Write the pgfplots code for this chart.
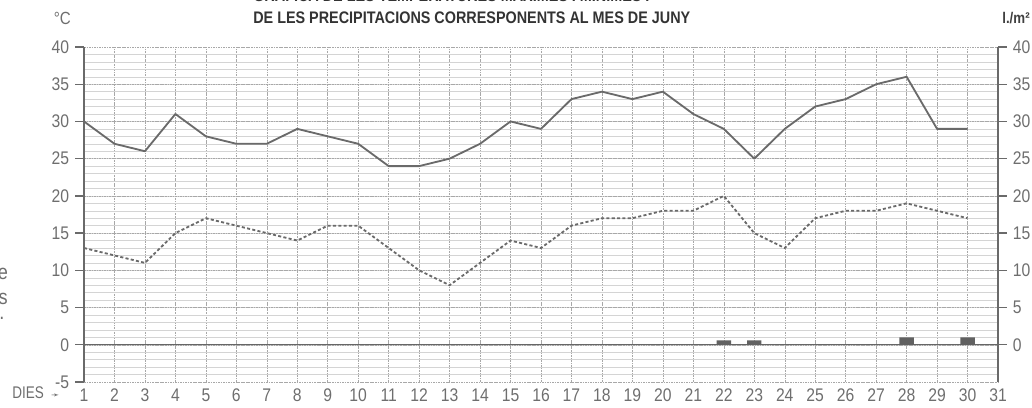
\documentclass[border=0pt]{standalone}
\usepackage{fontspec}
\setmainfont{Liberation Sans}[FakeStretch=0.86]
\newfontfamily\dejavu{DejaVu Sans}
\newfontfamily\narrowsans{Liberation Sans}[FakeStretch=0.8]
\usepackage{pgfplots}
\pgfplotsset{compat=1.18}
\usepackage{pgfplotstable}
\definecolor{linec}{HTML}{6A6A6A}
\definecolor{labc}{HTML}{6E6E6E}
\definecolor{gridc}{HTML}{D4D4D4}
\definecolor{vgridc}{HTML}{A8A8A8}
\pgfplotstableread{
day tmax
1 30
2 27
3 26
4 31
5 28
6 27
7 27
8 29
9 28
10 27
11 24
12 24
13 25
14 27
15 30
16 29
17 33
18 34
19 33
20 34
21 31
22 29
23 25
24 29
25 32
26 33
27 35
28 36
29 29
30 29
}\maxtable
\pgfplotstableread{
day tmin
1 13
2 12
3 11
4 15
5 17
6 16
7 15
8 14
9 16
10 16
11 13
12 10
13 8
14 11
15 14
16 13
17 16
18 17
19 17
20 18
21 18
22 20
23 15
24 13
25 17
26 18
27 18
28 19
29 18
30 17
}\mintable
\pgfplotstableread{
day prec
22 0.6
23 0.6
28 1.0
30 1.0
}\prectable
\begin{document}
\begin{tikzpicture}[x=1mm,y=1mm]
\useasboundingbox (0,0) rectangle (258,102);
\begin{axis}[
  at={(21mm,6.5mm)}, anchor=south west,
  scale only axis, width=228.5mm, height=83.75mm,
  xmin=1, xmax=31, ymin=-5, ymax=40,
  axis y line*=left, axis x line*=bottom,
  x axis line style={draw=none},
  y axis line style={line width=1.3pt, draw=linec, -},
  xtick={1,...,31}, ytick={-5,0,...,40}, minor ytick={-4,...,39},
  tick align=outside, major tick length=2.2mm, minor tick length=0pt,
  major x tick style={draw=none},
  major y tick style={line width=0.9pt, draw=linec},
  grid=both,
  major grid style={draw=vgridc, line width=0.35pt, dash pattern=on 1.2pt off 0.6pt},
  minor grid style={draw=gridc, line width=0.3pt},
  /pgf/number format/assume math mode=true,
  ticklabel style={font=\fontsize{13}{14}\selectfont, text=labc},
  xticklabel style={yshift=1.7mm},
  yticklabel style={xshift=-0.3mm},
  clip=false,
]
\addplot[draw=black!60, line width=0.8pt] coordinates {(1,0) (31,0)};
\addplot[ybar, bar width=3.6mm, fill=black!62, draw=none] table[x=day,y=prec] {\prectable};
\addplot[draw=linec, line width=1.3pt, line join=round] table[x=day,y=tmax] {\maxtable};
\addplot[draw=linec, line width=1.3pt, dash pattern=on 2.2pt off 1.6pt] table[x=day,y=tmin] {\mintable};
\end{axis}
\begin{axis}[
  at={(21mm,6.5mm)}, anchor=south west,
  scale only axis, width=228.5mm, height=83.75mm,
  xmin=1, xmax=31, ymin=-5, ymax=40,
  axis y line*=right, axis x line=none,
  y axis line style={line width=1.3pt, draw=linec, -},
  ytick={0,5,...,40},
  tick align=outside, major tick length=2.2mm,
  major y tick style={line width=0.9pt, draw=linec},
  /pgf/number format/assume math mode=true,
  ticklabel style={font=\fontsize{13}{14}\selectfont, text=labc},
  yticklabel style={xshift=0.3mm},
]
\addplot[draw=none] coordinates {(1,0)};
\end{axis}
\node[anchor=west, text=black!80, font=\bfseries\fontsize{11.9}{13}\selectfont, inner sep=0] at (63.25,103.4) {GRÀFICA DE LES TEMPERATURES MÀXIMES I MÍNIMES I};
\node[anchor=west, text=black!80, font=\bfseries\fontsize{11.9}{13}\selectfont, inner sep=0] at (63.25,97.6) {DE LES PRECIPITACIONS CORRESPONENTS AL MES DE JUNY};
\node[text=labc, font=\fontsize{12.5}{13}\selectfont, inner sep=0] at (15.6,97.3) {°C};
\node[text=black!75, font=\bfseries\fontsize{11}{12}\selectfont, inner sep=0] at (254,97.6) {l./m²};
\node[anchor=west, text=labc, font=\narrowsans\fontsize{12}{14}\selectfont, inner sep=0] at (3.0,3.8) {DIES};
\node[text=labc, font=\dejavu\fontsize{7}{8}\selectfont, inner sep=0] at (13.8,3.1) {➛};
\node[anchor=west, text=labc, font=\fontsize{15}{18}\selectfont, inner sep=0] at (-0.6,33.6) {e};
\node[anchor=west, text=labc, font=\fontsize{15}{18}\selectfont, inner sep=0] at (-0.4,27.2) {s};
\node[anchor=west, text=labc, font=\fontsize{15}{18}\selectfont, inner sep=0] at (-0.2,22.4) {.};
\end{tikzpicture}
\end{document}
